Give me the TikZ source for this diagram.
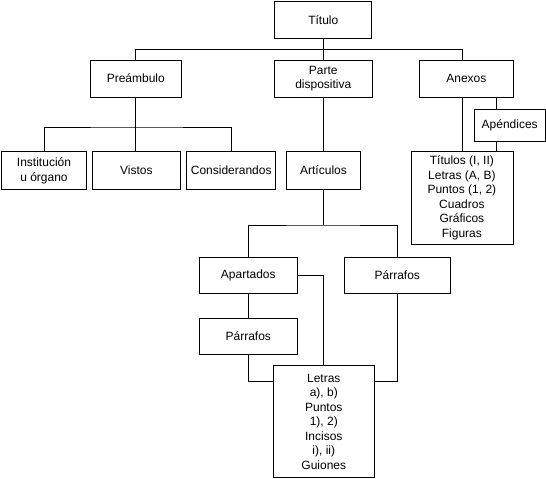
\documentclass[tikz,border=0pt]{standalone}
\usepackage{fontspec}
\setmainfont{Liberation Sans}
\begin{document}
\begin{tikzpicture}[x=1pt,y=-1pt,line width=0.8pt,
  box/.style={draw,align=center,inner sep=0pt,minimum height=36.6pt,
    font=\fontsize{12}{14.5}\selectfont}]
\useasboundingbox (0,0) rectangle (546,479);
% first row
\node[box,minimum width=97pt] (titulo) at (323.3,20) {Título};
\node[box,minimum width=91pt,minimum height=37pt] (pream) at (135.8,78.5) {Preámbulo};
\node[box,minimum width=98pt,minimum height=37pt] (parte) at (323.3,78.5) {Parte\\dispositiva};
\node[box,minimum width=94.4pt,minimum height=37pt] (anexos) at (466.4,78.5) {Anexos};
% second row
\node[box,minimum width=84.7pt,minimum height=37.6pt] (inst) at (44,170.6) {Institución\\u órgano};
\node[box,minimum width=88pt,minimum height=37.6pt] (vistos) at (136.4,170.6) {Vistos};
\node[box,minimum width=89pt,minimum height=37.6pt] (consid) at (231.2,170.6) {Considerandos};
\node[box,minimum width=74.5pt,minimum height=37.6pt] (artic) at (323.5,170.6) {Artículos};
\node[box,minimum width=71pt,minimum height=32.7pt] (apend) at (509.7,125.4) {Apéndices};
\node[box,minimum width=102pt,minimum height=92.2pt] (titulos) at (461.9,197.9)
  {Títulos (I, II)\\Letras (A, B)\\Puntos (1, 2)\\Cuadros\\Gráficos\\Figuras};
% lower part
\node[box,minimum width=98pt,minimum height=36pt] (apart) at (248.3,275.3) {Apartados};
\node[box,minimum width=106pt,minimum height=36pt] (parrA) at (397.3,275.3) {Párrafos};
\node[box,minimum width=98pt,minimum height=35.6pt] (parrB) at (248.3,336.5) {Párrafos};
\node[box,minimum width=101pt,minimum height=111.6pt] (letras) at (323.8,421.5)
  {Letras\\a), b)\\Puntos\\1), 2)\\Incisos\\i), ii)\\Guiones};
% connectors
\coordinate (busT) at (323.3,49.8);
\coordinate (busP) at (135.8,127);
\coordinate (busA) at (323.5,225);
\draw (titulo.south) -- (parte.north);
\draw (pream.north) |- (busT) -| (titulos.north |- anexos.north);
\draw (pream.south) -- (pream.south |- vistos.north);
\draw (inst.north) |- (busP) -| (consid.north);
\draw (parte.south) -- (parte.south |- artic.north);
\draw (artic.south) -- (busA);
\draw (apart.north) |- (busA) -| (parrA.north);
\draw (apart.east) -| (letras.north);
\draw (apart.south) -- (parrB.north);
\draw (parrB.south) |- ([yshift=-15.6pt]letras.north west);
\draw (parrA.south) |- ([yshift=-15.6pt]letras.north east);
\draw (titulos.north) -- (titulos.north |- anexos.south);
\draw ([xshift=-13pt]apend.north) -- ([xshift=-13pt]apend.north |- anexos.south);
\draw ([xshift=-13pt]apend.south) -- ([xshift=-13pt]apend.south |- titulos.north);
\end{tikzpicture}
\end{document}
